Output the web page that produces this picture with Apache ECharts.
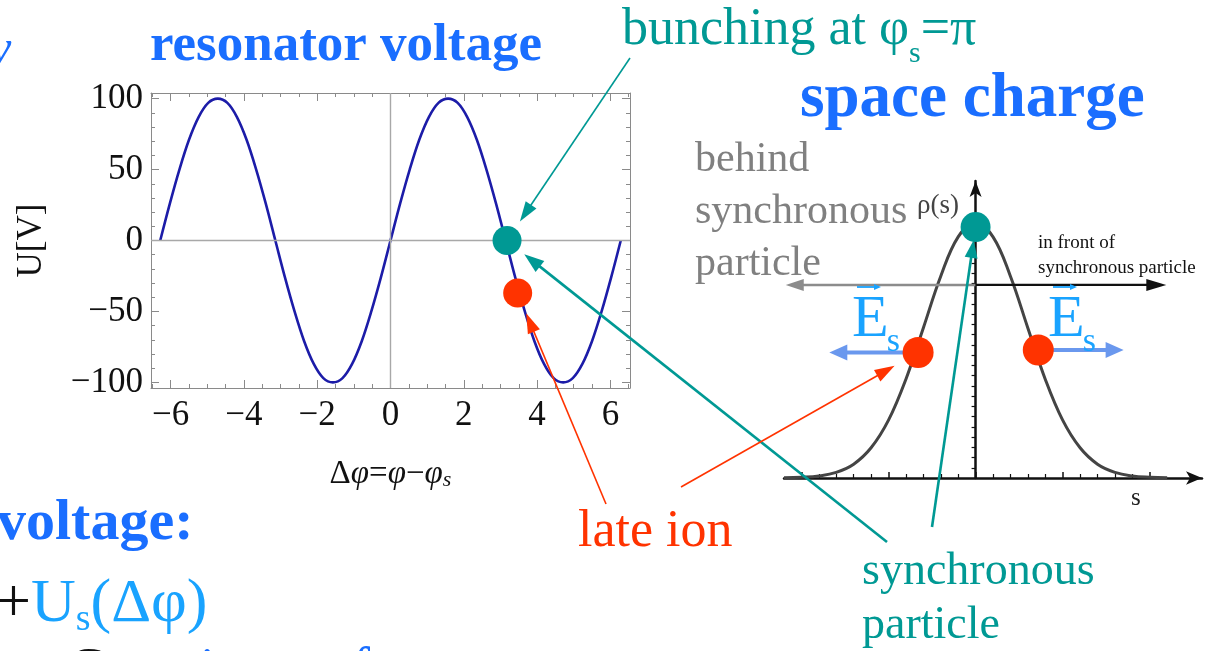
<!DOCTYPE html>
<html>
<head>
<meta charset="utf-8">
<script src="https://cdn.jsdelivr.net/npm/echarts@6/dist/echarts.min.js"></script>
<style>
  html, body { margin: 0; padding: 0; background: #ffffff; }
  #chart { width: 1215px; height: 651px; }
</style>
</head>
<body>
<div id="chart"></div>
<script>
// ---------- resonator voltage U(Δφ) ----------
const phase = [
  -6.283, -6.021, -5.760, -5.498, -5.236, -4.974, -4.712, -4.451, -4.189, -3.927, -3.665, -3.403,
  -3.142, -2.880, -2.618, -2.356, -2.094, -1.833, -1.571, -1.309, -1.047, -0.785, -0.524, -0.262,
  0, 0.262, 0.524, 0.785, 1.047, 1.309, 1.571, 1.833, 2.094, 2.356, 2.618, 2.880,
  3.142, 3.403, 3.665, 3.927, 4.189, 4.451, 4.712, 4.974, 5.236, 5.498, 5.760, 6.021, 6.283
];
const voltage = [
  0, 26, 50, 71, 87, 97, 100, 97, 87, 71, 50, 26,
  0, -26, -50, -71, -87, -97, -100, -97, -87, -71, -50, -26,
  0, 26, 50, 71, 87, 97, 100, 97, 87, 71, 50, 26,
  0, -26, -50, -71, -87, -97, -100, -97, -87, -71, -50, -26, 0
];
const phaseTicks = [-6, -4, -2, 0, 2, 4, 6];
const phaseMinorTicks = [-6.5, -5.5, -5, -4.5, -3.5, -3, -2.5, -1.5, -1, -0.5,
                         0.5, 1, 1.5, 2.5, 3, 3.5, 4.5, 5, 5.5, 6.5];
const voltageTicks = [-100, -50, 0, 50, 100];
const voltageMinorTicks = [-90, -80, -70, -60, -40, -30, -20, -10,
                           10, 20, 30, 40, 60, 70, 80, 90];
const syncParticle = [3.18, 0];     // bunching point at φs = π
const lateIon = [3.47, -37];

// ---------- bunch charge density ρ(s) ----------
const sPos = [-2.2, -2.0, -1.8, -1.6, -1.4, -1.2, -1.0, -0.8, -0.6, -0.4, -0.2, 0,
              0.2, 0.4, 0.6, 0.8, 1.0, 1.2, 1.4, 1.6, 1.8, 2.0, 2.2];
const rho = [0.001, 0.003, 0.008, 0.022, 0.054, 0.118, 0.226, 0.386, 0.586, 0.788, 0.942, 1.0,
             0.942, 0.788, 0.586, 0.386, 0.226, 0.118, 0.054, 0.022, 0.008, 0.003, 0.001];
const sTicks = [-2, -1, 0, 1, 2];
const sMinorTicks = [-1.8, -1.6, -1.4, -1.2, -0.8, -0.6, -0.4, -0.2,
                     0.2, 0.4, 0.6, 0.8, 1.2, 1.4, 1.6, 1.8];
const rhoTicks = [0.04, 0.08, 0.12, 0.16, 0.2, 0.24, 0.28, 0.32, 0.36, 0.4, 0.44,
                  0.48, 0.52, 0.56, 0.6, 0.64, 0.68, 0.72, 0.76, 0.8, 0.84, 0.88];
const bunchCentre = [0, 0.98];
const bunchIons = [[-0.66, 0.49], [0.72, 0.50]];

// direction arrows (ρ-plot coordinates)
const sideArrowLevel = 0.754;
const sideArrowReach = [-2.18, 2.19];
const fieldArrowTips = [-1.68, 1.70];

// ---------- styling ----------
const SERIF = '"Liberation Serif", "Times New Roman", serif';
const TEAL = '#009994';
const RED = '#ff3300';
const BLUE = '#1a6eff';
const SKY = '#19a3ff';
const FIELD = '#6a98ee';
const FRAME = '#8a8a8a';

const minus = v => String(v).replace('-', '\u2212');

function frameAxis(pos, ticks, len, withLine, extra) {
  return Object.assign({
    type: 'value',
    gridIndex: 0,
    position: pos,
    axisLine: { show: withLine, onZero: false, lineStyle: { color: FRAME, width: 1 } },
    axisTick: { show: true, inside: true, length: len, customValues: ticks,
                lineStyle: { color: FRAME, width: 1 } },
    axisLabel: { show: false },
    splitLine: { show: false }
  }, extra);
}

const xRange = { min: -6.535, max: 6.535 };
const yRange = { min: -104, max: 104 };
const labelFont = { fontFamily: SERIF, fontSize: 35, color: '#111' };

const xAxes = [
  frameAxis('bottom', phaseTicks, 8, true, Object.assign({}, xRange, {
    axisLabel: Object.assign({ show: true, customValues: phaseTicks, margin: 10,
                               formatter: minus }, labelFont),
    name: '{d|\u0394}{p|\u03c6}{t|=}{p|\u03c6}{t|\u2212}{p|\u03c6}{s|s}',
    nameLocation: 'middle',
    nameGap: 70,
    nameTextStyle: {
      rich: {
        d: { fontFamily: SERIF, fontSize: 33, color: '#111', lineHeight: 33 },
        t: { fontFamily: SERIF, fontSize: 33, color: '#111', lineHeight: 33 },
        p: { fontFamily: SERIF, fontSize: 33, fontStyle: 'italic', color: '#111', lineHeight: 33 },
        s: { fontFamily: SERIF, fontSize: 22, fontStyle: 'italic', color: '#111',
             lineHeight: 6, verticalAlign: 'bottom' }
      }
    }
  })),
  frameAxis('bottom', phaseMinorTicks, 4, false, Object.assign({}, xRange)),
  frameAxis('top', phaseTicks, 8, true, Object.assign({}, xRange)),
  frameAxis('top', phaseMinorTicks, 4, false, Object.assign({}, xRange)),
  // ρ(s) plot
  {
    type: 'value', gridIndex: 1, position: 'bottom', min: -2.2, max: 2.6,
    axisLine: { show: true, onZero: false, symbol: ['none', 'arrow'], symbolSize: [10, 16],
                lineStyle: { color: '#111', width: 2.5 } },
    axisTick: { show: true, inside: true, length: 6, customValues: sTicks,
                lineStyle: { color: '#111', width: 1.5 } },
    axisLabel: { show: false }, splitLine: { show: false }
  },
  {
    type: 'value', gridIndex: 1, position: 'bottom', min: -2.2, max: 2.6,
    axisLine: { show: false },
    axisTick: { show: true, inside: true, length: 4, customValues: sMinorTicks,
                lineStyle: { color: '#111', width: 1.2 } },
    axisLabel: { show: false }, splitLine: { show: false }
  }
];

const yAxes = [
  frameAxis('left', voltageTicks, 8, true, Object.assign({}, yRange, {
    axisLabel: Object.assign({ show: true, customValues: voltageTicks, margin: 8,
                               formatter: minus }, labelFont),
    name: 'U[V]',
    nameLocation: 'middle',
    nameGap: 102,
    nameRotate: 90,
    nameTextStyle: { fontFamily: SERIF, fontSize: 35, color: '#111' }
  })),
  frameAxis('left', voltageMinorTicks, 4, false, Object.assign({}, yRange)),
  frameAxis('right', voltageTicks, 8, true, Object.assign({}, yRange)),
  frameAxis('right', voltageMinorTicks, 4, false, Object.assign({}, yRange)),
  {
    type: 'value', gridIndex: 1, min: 0, max: 1.16,
    axisLine: { show: true, onZero: true, symbol: ['none', 'arrow'], symbolSize: [9, 16],
                lineStyle: { color: '#111', width: 2.5 } },
    axisTick: { show: true, inside: false, length: 4, customValues: rhoTicks,
                lineStyle: { color: '#111', width: 1.2 } },
    axisLabel: { show: false }, splitLine: { show: false }
  }
];

const chart = echarts.init(document.getElementById('chart'), null, { renderer: 'canvas' });

chart.setOption({
  backgroundColor: '#ffffff',
  animation: false,
  grid: [
    { left: 151, top: 93, width: 479, height: 295, containLabel: false },
    { left: 784, top: 181, width: 418, height: 297, containLabel: false }
  ],
  xAxis: xAxes,
  yAxis: yAxes,
  series: [
    {
      name: 'U',
      type: 'line',
      xAxisIndex: 0, yAxisIndex: 0,
      data: phase.map((p, i) => [p, voltage[i]]),
      smooth: 0.35,
      showSymbol: false,
      lineStyle: { color: '#1c1ca8', width: 2.6 },
      markLine: {
        silent: true,
        symbol: 'none',
        label: { show: false },
        lineStyle: { color: '#a8a8a8', width: 1.4, type: 'solid' },
        data: [{ xAxis: 0 }, { yAxis: 0 }]
      },
      z: 3
    },
    {
      name: 'synchronous particle',
      type: 'scatter', xAxisIndex: 0, yAxisIndex: 0,
      data: [syncParticle], symbolSize: 29,
      itemStyle: { color: TEAL, opacity: 1 }, z: 5
    },
    {
      name: 'late ion',
      type: 'scatter', xAxisIndex: 0, yAxisIndex: 0,
      data: [lateIon], symbolSize: 29,
      itemStyle: { color: RED, opacity: 1 }, z: 5
    },
    {
      name: 'ρ(s)',
      type: 'line',
      xAxisIndex: 4, yAxisIndex: 4,
      data: sPos.map((s, i) => [s, rho[i]]),
      smooth: 0.4,
      showSymbol: false,
      lineStyle: { color: '#444444', width: 3 },
      z: 3
    },
    {
      name: 'bunch centre',
      type: 'scatter', xAxisIndex: 4, yAxisIndex: 4,
      data: [bunchCentre], symbolSize: 30,
      itemStyle: { color: TEAL, opacity: 1 }, z: 6
    },
    {
      name: 'bunch ions',
      type: 'scatter', xAxisIndex: 4, yAxisIndex: 4,
      data: bunchIons, symbolSize: 31,
      itemStyle: { color: RED, opacity: 1 }, z: 6
    }
  ]
});

// ---------- annotation layer ----------
const BASE = 0.24;   // baseline offset below the middle of a text line, in em
const measureCtx = document.createElement('canvas').getContext('2d');

function fontOf(p) {
  return (p.italic ? 'italic ' : 'normal ') + (p.bold ? 'bold ' : 'normal ') + p.size + 'px ' + SERIF;
}
function arrow(x1, y1, x2, y2, color, width, headLen, headW, z) {
  const a = Math.atan2(y2 - y1, x2 - x1);
  const bx = x2 - headLen * Math.cos(a), by = y2 - headLen * Math.sin(a);
  const px = -Math.sin(a) * headW / 2, py = Math.cos(a) * headW / 2;
  return [
    { type: 'line', silent: true, z: z || 100,
      shape: { x1: x1, y1: y1, x2: bx + 2 * Math.cos(a), y2: by + 2 * Math.sin(a) },
      style: { stroke: color, lineWidth: width } },
    { type: 'polygon', silent: true, z: z || 100,
      shape: { points: [[x2, y2], [bx + px, by + py], [bx - px, by - py]] },
      style: { fill: color } }
  ];
}
// pointer from a label position towards a dot, stopping `gap` px from its centre
function pointer(from, dot, gap, color, width, headLen, headW) {
  const dx = from[0] - dot[0], dy = from[1] - dot[1];
  const d = Math.hypot(dx, dy);
  const tip = [dot[0] + dx / d * gap, dot[1] + dy / d * gap];
  return arrow(from[0], from[1], tip[0], tip[1], color, width, headLen, headW);
}
function text(x, baseline, str, size, color, opt) {
  opt = opt || {};
  return {
    type: 'text', silent: true, z: 110, x: x, y: baseline - BASE * size,
    style: { text: str, fontFamily: SERIF, fontSize: size, fill: color,
             fontStyle: opt.italic ? 'italic' : 'normal',
             fontWeight: opt.bold ? 'bold' : 'normal',
             align: 'left', verticalAlign: 'middle' }
  };
}
function block(x, firstBaseline, str, size, lineHeight, color) {
  return {
    type: 'text', silent: true, z: 110, x: x, y: firstBaseline - BASE * size - lineHeight / 2,
    style: { text: str, fontFamily: SERIF, fontSize: size, lineHeight: lineHeight, fill: color,
             align: 'left', verticalAlign: 'top' }
  };
}
// a run of text pieces set one after another, each with its own size and baseline shift
function run(x, baseline, parts) {
  const out = [];
  let cx = x;
  parts.forEach(p => {
    measureCtx.font = fontOf(p);
    out.push(text(cx + (p.dx || 0), baseline + (p.dy || 0), p.t, p.size, p.color, p));
    cx += measureCtx.measureText(p.t).width + (p.dx || 0);
  });
  return out;
}

function drawAnnotations() {
  const L = v => chart.convertToPixel({ gridIndex: 0 }, v);
  const R = v => chart.convertToPixel({ gridIndex: 1 }, v);
  const sync = L(syncParticle), late = L(lateIon);
  const centre = R(bunchCentre);
  const ionL = R(bunchIons[0]), ionR = R(bunchIons[1]);
  const level = R([0, sideArrowLevel]);
  const behindTip = R([sideArrowReach[0], sideArrowLevel]);
  const frontTip = R([sideArrowReach[1], sideArrowLevel]);
  const fieldL = R([fieldArrowTips[0], bunchIons[0][1]]);
  const fieldR = R([fieldArrowTips[1], bunchIons[1][1]]);

  let g = [];
  // behind / in front direction arrows
  g = g.concat(arrow(level[0], level[1], behindTip[0], behindTip[1], '#8c8c8c', 2.5, 18, 12, 4));
  g = g.concat(arrow(level[0], level[1], frontTip[0], frontTip[1], '#111111', 2.2, 20, 12, 4));
  // space-charge field arrows
  g = g.concat(arrow(ionL[0], ionL[1], fieldL[0], fieldL[1], FIELD, 4, 18, 16, 4));
  g = g.concat(arrow(ionR[0], ionR[1], fieldR[0], fieldR[1], FIELD, 4, 18, 16, 4));
  // vector marks above E
  g = g.concat(arrow(857, 287, 881, 287, SKY, 1.8, 7, 6, 105));
  g = g.concat(arrow(1053, 287, 1077, 287, SKY, 1.8, 7, 6, 105));

  // pointers
  g = g.concat(pointer([630, 58], sync, 23, TEAL, 1.6, 20, 13));
  g = g.concat(pointer([887, 542], sync, 22, TEAL, 2.6, 20, 14));
  g = g.concat(pointer([932, 527], centre, 13, TEAL, 2.6, 18, 13));
  g = g.concat(pointer([606, 504], late, 22, RED, 1.6, 20, 13));
  g = g.concat(pointer([681, 487], ionL, 27, RED, 1.6, 20, 13));

  // texts
  g.push(text(-10, 62, 'y', 48, BLUE, { italic: true }));
  g.push(text(150, 59, 'resonator voltage', 53, BLUE, { bold: true }));
  g = g.concat(run(622, 43, [
    { t: 'bunching at \u03c6', size: 52, color: TEAL },
    { t: 's', size: 30, color: TEAL, dy: 18 },
    { t: '=\u03c0', size: 52, color: TEAL }
  ]));
  g.push(text(800, 115, 'space charge', 63, BLUE, { bold: true }));
  g.push(block(695, 170, 'behind\nsynchronous\nparticle', 42, 52, '#808080'));
  g.push(text(917, 212, '\u03c1(s)', 27, '#444444'));
  g.push(block(1038, 248, 'in front of\nsynchronous particle', 19, 25, '#111111'));
  g = g.concat(run(852, 335, [
    { t: 'E', size: 60, color: SKY },
    { t: 's', size: 34, color: SKY, dy: 15, dx: -2 }
  ]));
  g = g.concat(run(1048, 335, [
    { t: 'E', size: 60, color: SKY },
    { t: 's', size: 34, color: SKY, dy: 15, dx: -2 }
  ]));
  g.push(text(1131, 504, 's', 25, '#222222'));
  g.push(text(578, 545, 'late ion', 52, RED));
  g.push(block(862, 583, 'synchronous\nparticle', 46, 54, TEAL));
  g.push(text(-3, 538, 'voltage:', 58, BLUE, { bold: true }));
  g = g.concat(run(-4, 620, [
    { t: '+', size: 62, color: '#111111' },
    { t: 'U', size: 62, color: SKY },
    { t: 's', size: 38, color: SKY, dy: 9 },
    { t: '(\u0394\u03c6)', size: 62, color: SKY }
  ]));
  g.push(text(68, 684, 'C', 54, '#111111'));
  g.push(text(200, 684, 'i', 54, BLUE));
  g.push(text(352, 684, 'f', 54, BLUE));

  chart.setOption({ graphic: { elements: g } });
}
drawAnnotations();
</script>
</body>
</html>
